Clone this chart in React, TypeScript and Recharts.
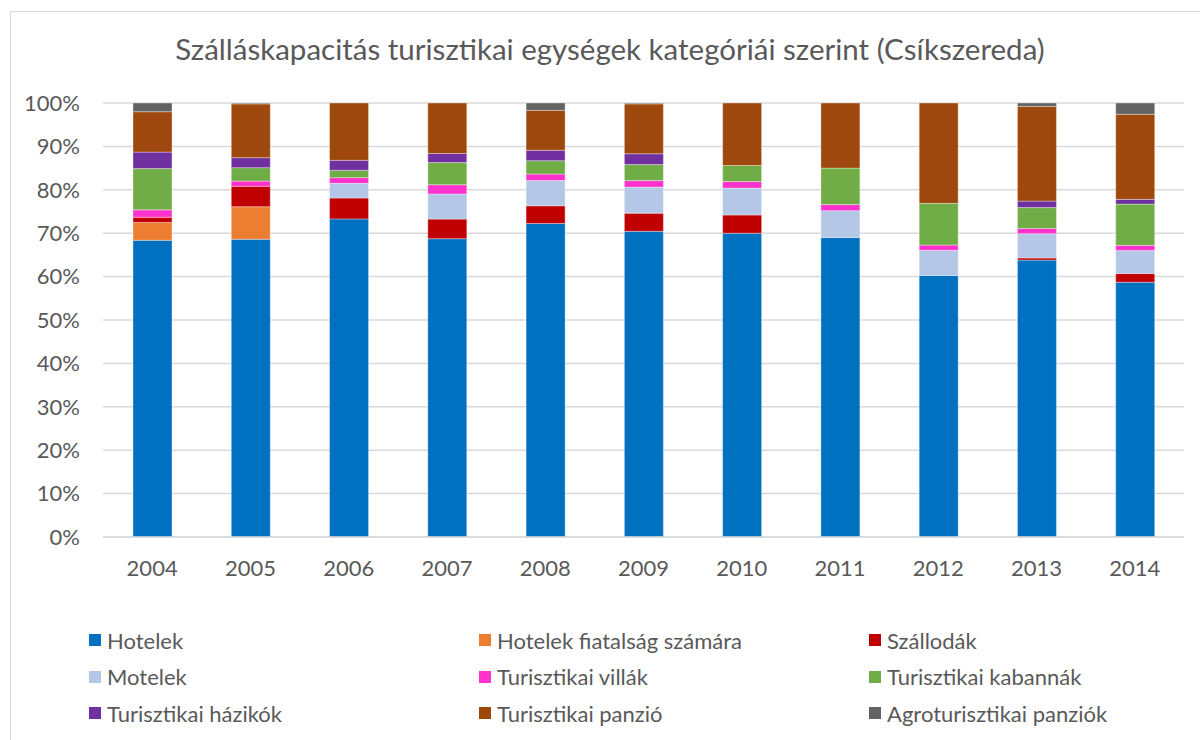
import { Bar, BarChart, CartesianGrid, XAxis, YAxis } from 'recharts';

const years = ['2004', '2005', '2006', '2007', '2008', '2009', '2010', '2011', '2012', '2013', '2014'];

const hotelek = [68.3, 68.6, 73.3, 68.6, 72.3, 70.5, 70.0, 69.0, 60.2, 63.8, 58.7];
const hotelekFiatalsag = [4.1, 7.5, 0, 0, 0, 0, 0, 0, 0, 0, 0];
const szallodak = [1.2, 4.7, 4.8, 4.5, 4.1, 4.2, 4.2, 0, 0, 0.5, 2.0];
const motelek = [0, 0, 3.4, 5.8, 5.8, 6.0, 6.2, 6.2, 5.8, 5.6, 5.3];
const villak = [1.7, 1.2, 1.3, 2.1, 1.5, 1.5, 1.5, 1.4, 1.2, 1.2, 1.2];
const kabannak = [9.5, 3.1, 1.7, 5.1, 3.1, 3.7, 3.7, 8.4, 9.6, 4.8, 9.5];
const hazikok = [3.8, 2.3, 2.3, 2.1, 2.4, 2.5, 0, 0, 0, 1.5, 1.1];
const panzio = [9.3, 12.4, 13.2, 11.6, 9.2, 11.5, 14.4, 15.0, 23.1, 21.8, 19.6];
const agroPanzio = [2.0, 0.2, 0, 0, 1.7, 0.2, 0, 0, 0, 0.8, 2.6];

const yTicks = [0, 0.1, 0.2, 0.3, 0.4, 0.5, 0.6, 0.7, 0.8, 0.9, 1];

const series = [
    { key: 'hotelek', name: 'Hotelek', values: hotelek, color: '#0070C0' },
    { key: 'fiatalsag', name: 'Hotelek fiatalság számára', values: hotelekFiatalsag, color: '#ED7D31' },
    { key: 'szallodak', name: 'Szállodák', values: szallodak, color: '#C00000' },
    { key: 'motelek', name: 'Motelek', values: motelek, color: '#B4C7E7' },
    { key: 'villak', name: 'Turisztikai villák', values: villak, color: '#FF33CC' },
    { key: 'kabannak', name: 'Turisztikai kabannák', values: kabannak, color: '#70AD47' },
    { key: 'hazikok', name: 'Turisztikai házikók', values: hazikok, color: '#7030A0' },
    { key: 'panzio', name: 'Turisztikai panzió', values: panzio, color: '#9E480E' },
    { key: 'agro', name: 'Agroturisztikai panziók', values: agroPanzio, color: '#636363' },
];

const data = years.map((year, i) => {
    const row: Record<string, string | number> = { year };
    series.forEach((s) => {
        row[s.key] = s.values[i];
    });
    return row;
});

const fontFamily = 'Lato, "Open Sans", sans-serif';
const textColor = '#595959';
const tickStyle = { fill: textColor, fontSize: 22, fontFamily };

const LegendGrid = () => (
    <div
        style={{
            position: 'absolute',
            left: 89,
            top: 622,
            display: 'grid',
            gridTemplateColumns: '390px 390px 390px',
            gridAutoRows: '36.5px',
            fontFamily,
            fontSize: 22,
            color: textColor,
        }}
    >
        {series.map((s) => (
            <div key={s.key} style={{ display: 'flex', alignItems: 'center' }}>
                <span
                    style={{
                        width: 12,
                        height: 12,
                        background: s.color,
                        marginRight: 6,
                        display: 'inline-block',
                    }}
                />
                <span>{s.name}</span>
            </div>
        ))}
    </div>
);

export default function App() {
    return (
        <div style={{ position: 'absolute', left: 0, top: 0, width: 1200, height: 740, overflow: 'hidden', background: '#fff' }}>
            <div
                style={{
                    position: 'absolute',
                    left: 10,
                    top: 11,
                    width: 1200,
                    height: 740,
                    border: '1px solid #d9d9d9',
                    boxSizing: 'border-box',
                }}
            />
            <div
                style={{
                    position: 'absolute',
                    left: 10,
                    top: 31,
                    width: 1200,
                    textAlign: 'center',
                    fontFamily,
                    fontSize: 29.5,
                    color: textColor,
                }}
            >
                Szálláskapacitás turisztikai egységek kategóriái szerint (Csíkszereda)
            </div>
            <div style={{ position: 'absolute', left: 0, top: 0 }}>
                <BarChart
                    width={1200}
                    height={740}
                    data={data}
                    stackOffset="expand"
                    margin={{ top: 103, right: 16, left: 13, bottom: 143 }}
                    barSize={39}
                >
                    <CartesianGrid vertical={false} stroke="#d9d9d9" strokeWidth={1.5} />
                    <XAxis
                        dataKey="year"
                        tick={tickStyle}
                        tickLine={false}
                        axisLine={{ stroke: '#d9d9d9', strokeWidth: 1.5 }}
                        tickSize={0}
                        tickMargin={23}
                        height={60}
                    />
                    <YAxis
                        ticks={yTicks}
                        domain={[0, 1]}
                        tickFormatter={(v: number) => `${Math.round(v * 100)}%`}
                        tick={tickStyle}
                        tickLine={false}
                        axisLine={false}
                        tickSize={0}
                        tickMargin={23}
                        width={90}
                    />
                    {series.map((s) => (
                        <Bar
                            key={s.key}
                            dataKey={s.key}
                            name={s.name}
                            stackId="a"
                            fill={s.color}
                            stroke="#ffffff"
                            strokeOpacity={0.35}
                            strokeWidth={1}
                            isAnimationActive={false}
                        />
                    ))}
                </BarChart>
            </div>
            <LegendGrid />
        </div>
    );
}
